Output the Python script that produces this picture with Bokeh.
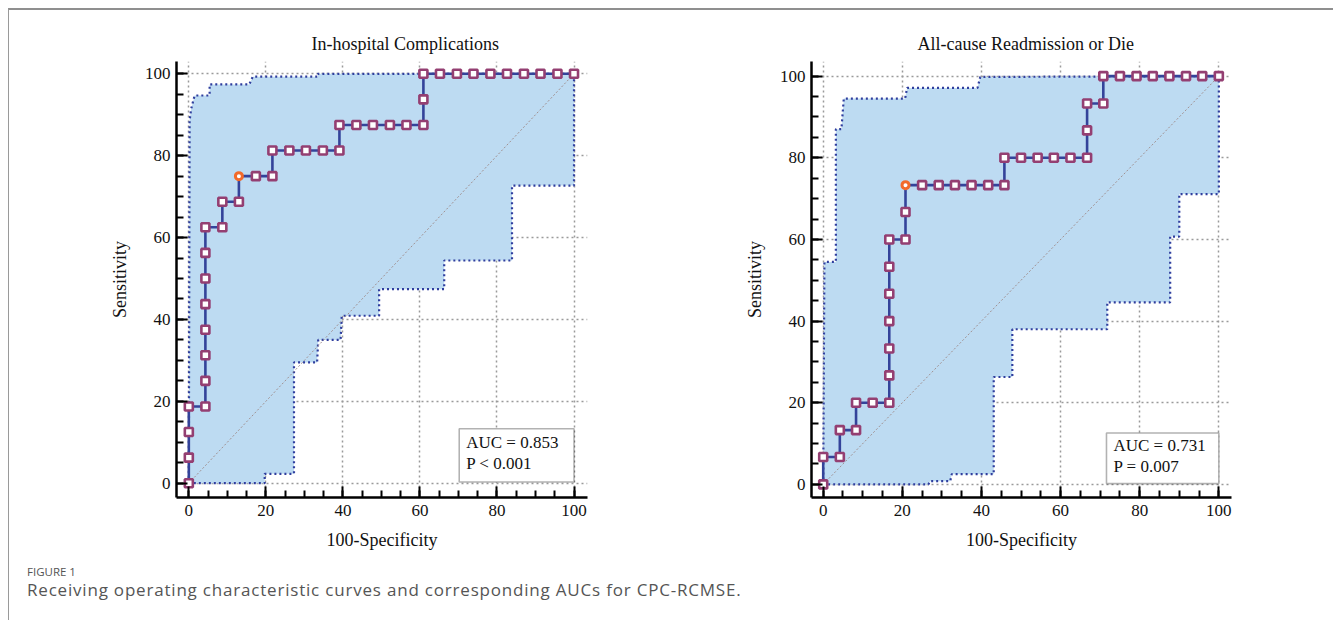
from bokeh.plotting import figure
from bokeh.models import Range1d, SingleIntervalTicker, BoxAnnotation, Label, Div
from bokeh.layouts import column, row
from bokeh.embed import file_html
from bokeh.resources import INLINE

# ---------------- data ----------------
TITLE_L = "In-hospital Complications"
TITLE_R = "All-cause Readmission or Die"
XLABEL = "100-Specificity"
YLABEL = "Sensitivity"

# Left ROC (In-hospital Complications)
L_fpr = [0, 0, 0, 0, 4.3, 4.3, 4.3, 4.3, 4.3, 4.3, 4.3, 4.3, 8.7, 8.7, 13.0, 13.0,
         17.4, 21.7, 21.7, 26.1, 30.4, 34.8, 39.1, 39.1, 43.5, 47.8, 52.2, 56.5,
         60.9, 60.9, 60.9, 65.2, 69.6, 73.9, 78.3, 82.6, 87.0, 91.3, 95.7, 100]
L_tpr = [0, 6.25, 12.5, 18.75, 18.75, 25, 31.25, 37.5, 43.75, 50, 56.25, 62.5, 62.5,
         68.75, 68.75, 75, 75, 75, 81.25, 81.25, 81.25, 81.25, 81.25, 87.5, 87.5,
         87.5, 87.5, 87.5, 87.5, 93.75, 100, 100, 100, 100, 100, 100, 100, 100, 100, 100]
L_best = 15
L_up_x = [0, 0.2, 0.6, 1.5, 5.4, 5.4, 15.7, 16.6, 33.5, 33.5, 100]
L_up_y = [0, 88.6, 91.4, 94.7, 94.7, 97.4, 97.4, 99.3, 99.3, 100, 100]
L_lo_x = [0, 19.7, 19.7, 27.3, 27.3, 33.3, 33.6, 39.4, 39.7, 49.4, 49.4, 66.3, 66.3,
          83.9, 83.9, 100, 100]
L_lo_y = [0, 0, 2.3, 2.3, 29.5, 29.5, 35.0, 35.0, 40.9, 40.9, 47.4, 47.4, 54.4,
          54.4, 72.7, 72.7, 100]
L_auc = "AUC = 0.853"
L_p = "P < 0.001"

# Right ROC (All-cause Readmission or Die)
R_fpr = [0, 0, 4.2, 4.2, 8.3, 8.3, 12.5, 16.7, 16.7, 16.7, 16.7, 16.7, 16.7, 16.7,
         20.8, 20.8, 20.8, 25.0, 29.2, 33.3, 37.5, 41.7, 45.8, 45.8, 50.0, 54.2,
         58.3, 62.5, 66.7, 66.7, 66.7, 70.8, 70.8, 75.0, 79.2, 83.3, 87.5, 91.7, 95.8, 100]
R_tpr = [0, 6.7, 6.7, 13.3, 13.3, 20, 20, 20, 26.7, 33.3, 40, 46.7, 53.3, 60, 60,
         66.7, 73.3, 73.3, 73.3, 73.3, 73.3, 73.3, 73.3, 80, 80, 80, 80, 80, 80,
         86.7, 93.3, 93.3, 100, 100, 100, 100, 100, 100, 100, 100]
R_best = 16
R_up_x = [0, 0.3, 3.2, 3.2, 4.6, 5.2, 20.7, 21.2, 39.0, 39.7, 100]
R_up_y = [0, 54.5, 54.5, 87.0, 87.0, 94.5, 94.5, 97.1, 97.1, 99.8, 100]
R_lo_x = [0, 26.6, 27.0, 32.1, 32.5, 43.1, 43.1, 47.8, 47.8, 71.8, 71.8, 87.7, 87.7,
          90.0, 90.0, 100, 100]
R_lo_y = [0, 0, 0.8, 0.8, 2.5, 2.5, 26.3, 26.3, 38.0, 38.0, 44.6, 44.6, 60.7, 60.7,
          71.1, 71.1, 100]
R_auc = "AUC = 0.731"
R_p = "P = 0.007"

CAPTION_HEAD = "FIGURE 1"
CAPTION = "Receiving operating characteristic curves and corresponding AUCs for CPC-RCMSE."

# ---------------- style ----------------
SERIF = "Liberation Serif"
BAND_FILL = "#BDDBF2"
BAND_LINE = "#2F3E9E"
ROC_LINE = "#34439A"
MARK_LINE = "#943F72"
BEST_LINE = "#F26A2A"
GRID = "#9a9a9a"


def make_roc(title, fpr, tpr, best, up_x, up_y, lo_x, lo_y, auc, pv,
             width, height, mbl, mbr, mbt, mbb, xr, yr, box, title_offset,
             txt_rows):
    p = figure(width=width, height=height, x_range=Range1d(*xr), y_range=Range1d(*yr),
               output_backend="svg", toolbar_location=None,
               min_border_left=mbl, min_border_right=mbr,
               min_border_top=mbt, min_border_bottom=mbb)
    p.outline_line_color = None
    p.background_fill_color = "white"
    p.border_fill_color = "white"

    p.title.text = title
    p.title.align = "left"
    p.title.offset = title_offset
    p.title.standoff = 15
    p.title.text_font = SERIF
    p.title.text_font_size = "18px"
    p.title.text_font_style = "normal"
    p.title.text_color = "#111111"

    for ax in (p.xaxis[0], p.yaxis[0]):
        ax.ticker = SingleIntervalTicker(interval=20, num_minor_ticks=4)
        ax.axis_line_width = 2.5
        ax.axis_line_color = "black"
        ax.major_tick_line_width = 2
        ax.minor_tick_line_width = 2
        ax.major_tick_line_color = "black"
        ax.minor_tick_line_color = "black"
        ax.major_tick_in = 11
        ax.major_tick_out = 0
        ax.minor_tick_in = 7
        ax.minor_tick_out = 0
        ax.major_label_text_font = SERIF
        ax.major_label_text_font_size = "17px"
        ax.major_label_text_color = "#111111"
        ax.axis_label_text_font = SERIF
        ax.axis_label_text_font_size = "18px"
        ax.axis_label_text_font_style = "normal"
        ax.axis_label_text_color = "#111111"
    p.xaxis.axis_label = XLABEL
    p.yaxis.axis_label = YLABEL
    p.xaxis.major_label_standoff = 7
    p.yaxis.major_label_standoff = 6
    p.xaxis.axis_label_standoff = 11
    p.yaxis.axis_label_standoff = 12

    for g in (p.xgrid[0], p.ygrid[0]):
        g.ticker = SingleIntervalTicker(interval=20)
        g.grid_line_color = GRID
        g.grid_line_dash = "2 3"
        g.grid_line_width = 1.5

    # confidence band
    bx = list(up_x) + list(lo_x)[::-1]
    by = list(up_y) + list(lo_y)[::-1]
    p.patch(bx, by, fill_color=BAND_FILL, fill_alpha=1, line_color=None)
    p.line(up_x, up_y, line_color=BAND_LINE, line_width=2.2, line_dash="2 3")
    p.line(lo_x, lo_y, line_color=BAND_LINE, line_width=2.2, line_dash="2 3")

    # diagonal reference (chance line)
    p.line([0, 100], [0, 100], line_color="#a09090", line_width=1, line_dash="2 2")

    # ROC curve
    p.line(fpr, tpr, line_color=ROC_LINE, line_width=2.6)
    mx = [v for i, v in enumerate(fpr) if i != best]
    my = [v for i, v in enumerate(tpr) if i != best]
    p.scatter(mx, my, marker="square", size=8, line_color=MARK_LINE, line_width=2.6,
              fill_color="white")
    p.scatter([fpr[best]], [tpr[best]], marker="circle", size=7, line_color=BEST_LINE,
              line_width=3, fill_color="white")

    # AUC box
    bl, br, bb, bt = box
    p.add_layout(BoxAnnotation(left=bl, right=br, bottom=bb, top=bt, fill_color="white",
                               fill_alpha=1, line_color="black", line_width=1.6,
                               level="annotation"))
    for txt, dy in zip((auc, pv), txt_rows):
        p.add_layout(Label(x=bl, y=bt, x_offset=7, y_offset=-dy, text=txt,
                           text_font=SERIF, text_font_size="17px",
                           text_baseline="middle", text_color="#111111"))
    return p


p1 = make_roc(TITLE_L, L_fpr, L_tpr, L_best, L_up_x, L_up_y, L_lo_x, L_lo_y, L_auc, L_p,
              width=651, height=545, mbl=167, mbr=73, mbt=51, mbb=58,
              xr=(-3.2, 103.5), yr=(-3.49, 103.0), box=(70.2, 100, 0.3, 13.3),
              title_offset=135, txt_rows=(14, 35))
p2 = make_roc(TITLE_R, R_fpr, R_tpr, R_best, R_up_x, R_up_y, R_lo_x, R_lo_y, R_auc, R_p,
              width=667, height=545, mbl=151, mbr=96, mbt=51, mbb=58,
              xr=(-2.96, 103.2), yr=(-3.21, 103.58), box=(71.6, 100, 0.2, 12.6),
              title_offset=106, txt_rows=(13, 34))

cap = Div(width=1318, height=55, text=(
    "<div style=\"font-family:'Open Sans',sans-serif;color:#555;padding-left:13px\">"
    "<div style='font-size:11.5px;line-height:14px;margin-top:5px'>" + CAPTION_HEAD + "</div>"
    "<div style='font-size:17px;letter-spacing:0.8px;line-height:20px;margin-top:1px'>"
    + CAPTION + "</div>"
    "</div>"))

layout = column(row(p1, p2), cap, margin=(8, 0, 0, 8),
                styles={"border-top": "2px solid #8f8f8f", "border-left": "1px solid #9a9a9a",
                        "border-right": "1px solid #9a9a9a"})

open("out.html", "w").write(file_html(layout, INLINE))
